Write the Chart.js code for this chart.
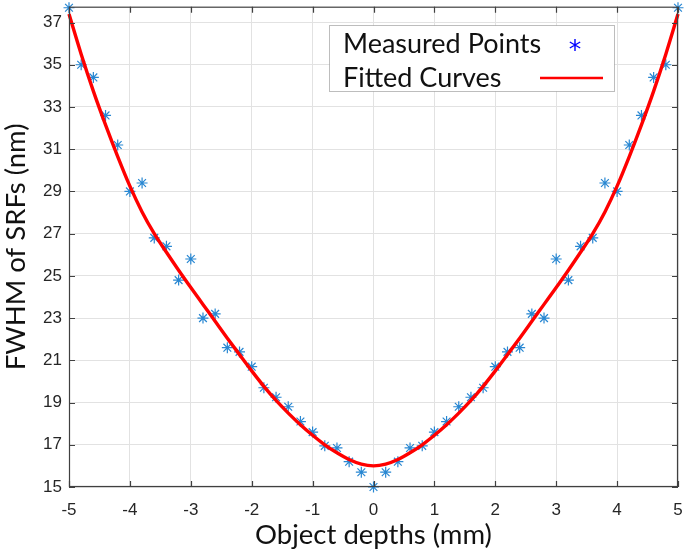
<!DOCTYPE html>
<html>
<head>
<meta charset="utf-8">
<script src="https://cdn.jsdelivr.net/npm/chart.js@4/dist/chart.umd.min.js"></script>
<style>
  html, body { margin: 0; padding: 0; background: #ffffff; }
  #wrap { width: 685px; height: 552px; position: relative; }
</style>
</head>
<body>
<div id="wrap"><canvas id="c" width="685" height="552"></canvas></div>
<script>
// ---- Data ----
const depths = [-5,-4.8,-4.6,-4.4,-4.2,-4,-3.8,-3.6,-3.4,-3.2,-3,-2.8,-2.6,-2.4,-2.2,-2,-1.8,-1.6,-1.4,-1.2,-1,-0.8,-0.6,-0.4,-0.2,0,
                0.2,0.4,0.6,0.8,1,1.2,1.4,1.6,1.8,2,2.2,2.4,2.6,2.8,3,3.2,3.4,3.6,3.8,4,4.2,4.4,4.6,4.8,5];
const measuredFWHM = [37.7,35.0,34.4,32.6,31.2,29.0,29.4,26.8,26.4,24.8,25.8,23.0,23.2,21.6,21.4,20.7,19.7,19.25,18.8,18.1,17.6,16.95,16.85,16.2,15.7,15.0,
                      15.7,16.2,16.85,16.95,17.6,18.1,18.8,19.25,19.7,20.7,21.4,21.6,23.2,23.0,25.8,24.8,26.4,26.8,29.4,29.0,31.2,32.6,34.4,35.0,37.7];
const fittedFWHM = [37.4,35.5,33.75,32.15,30.65,29.25,28.03,27.0,26.12,25.27,24.45,23.65,22.85,22.05,21.27,20.5,19.77,19.1,18.5,17.95,17.45,17.0,16.62,16.3,16.08,16.0,
                    16.08,16.3,16.62,17.0,17.45,17.95,18.5,19.1,19.77,20.5,21.27,22.05,22.85,23.65,24.45,25.27,26.12,27.0,28.03,29.25,30.65,32.15,33.75,35.5,37.4];
const xTicks = [-5,-4,-3,-2,-1,0,1,2,3,4,5];
const yTicks = [15,17,19,21,23,25,27,29,31,33,35,37];
const legendLabels = ["Measured Points", "Fitted Curves"];
const xTitle = "Object depths (mm)";
const yTitle = "FWHM of SRFs (nm)";

const measuredPts = depths.map((d, i) => ({ x: d, y: measuredFWHM[i] }));
const fittedPts = depths.map((d, i) => ({ x: d, y: fittedFWHM[i] }));

const AXIS_COLOR = '#404040';
const TICK_FONT = { family: "'Liberation Sans', Arial, sans-serif", size: 17 };
const TITLE_FONT = { family: "Lato, 'Open Sans', sans-serif", size: 27.5 };

function zeroPad(s) { s.paddingTop = 0; s.paddingBottom = 0; s.paddingLeft = 0; s.paddingRight = 0; }

const boxPlugin = {
  id: 'matlabBox',
  afterDatasetsDraw(chart) {
    const ctx = chart.ctx;
    const a = chart.chartArea;
    const xs = chart.scales.x, ys = chart.scales.y;
    ctx.save();
    ctx.strokeStyle = AXIS_COLOR;
    ctx.lineWidth = 1.2;
    ctx.strokeRect(a.left + 0.5, a.top + 0.5, a.right - a.left - 1, a.bottom - a.top - 1);
    const tl = 6;
    ctx.beginPath();
    xTicks.forEach(v => {
      const px = Math.round(xs.getPixelForValue(v)) + 0.5;
      ctx.moveTo(px, a.bottom); ctx.lineTo(px, a.bottom - tl);
      ctx.moveTo(px, a.top); ctx.lineTo(px, a.top + tl);
    });
    yTicks.forEach(v => {
      const py = Math.round(ys.getPixelForValue(v)) + 0.5;
      ctx.moveTo(a.left, py); ctx.lineTo(a.left + tl, py);
      ctx.moveTo(a.right, py); ctx.lineTo(a.right - tl, py);
    });
    ctx.stroke();

    // legend box
    const lx = 329.5, ly = 25.5, lw = 285, lh = 66;
    ctx.fillStyle = '#ffffff';
    ctx.fillRect(lx, ly, lw, lh);
    ctx.setLineDash([1, 1]);
    ctx.strokeStyle = '#7a7a7a';
    ctx.lineWidth = 1;
    ctx.strokeRect(lx, ly, lw, lh);
    ctx.setLineDash([]);
    ctx.fillStyle = '#111111';
    ctx.font = "27px Lato, 'Open Sans', sans-serif";
    ctx.textBaseline = 'middle';
    ctx.textAlign = 'left';
    ctx.fillText(legendLabels[0], 343, 44);
    ctx.fillText(legendLabels[1], 343, 78);
    // star marker
    const sx = 575, sy = 45, r = 6;
    ctx.strokeStyle = '#0000ff';
    ctx.lineWidth = 1.4;
    ctx.beginPath();
    for (let k = 0; k < 3; k++) {
      const ang = Math.PI / 2 + k * Math.PI / 3;
      ctx.moveTo(sx + r * Math.cos(ang), sy + r * Math.sin(ang));
      ctx.lineTo(sx - r * Math.cos(ang), sy - r * Math.sin(ang));
    }
    ctx.stroke();
    // red line
    ctx.strokeStyle = '#ff0000';
    ctx.lineWidth = 2.5;
    ctx.beginPath();
    ctx.moveTo(540, 78); ctx.lineTo(603, 78);
    ctx.stroke();
    ctx.restore();
  }
};

new Chart(document.getElementById('c'), {
  type: 'scatter',
  data: {
    datasets: [
      {
        label: legendLabels[1],
        data: fittedPts,
        showLine: true,
        borderColor: '#ff0000',
        borderWidth: 3.4,
        pointRadius: 0,
        cubicInterpolationMode: 'monotone',
        order: 0
      },
      {
        label: legendLabels[0],
        data: measuredPts,
        showLine: false,
        pointStyle: 'star',
        pointRadius: 5.5,
        borderColor: 'rgb(40,135,210)',
        backgroundColor: 'rgb(40,135,210)',
        pointBorderWidth: 1.2,
        order: 1
      }
    ]
  },
  options: {
    responsive: false,
    animation: false,
    clip: false,
    layout: { padding: { top: 6, right: 7, left: 0, bottom: 0 } },
    plugins: { legend: { display: false }, tooltip: { enabled: false } },
    scales: {
      x: {
        type: 'linear',
        min: -5, max: 5,
        afterBuildTicks: s => { s.ticks = xTicks.map(v => ({ value: v })); },
        afterFit: s => { s.height = 65; zeroPad(s); },
        grid: { color: '#e2e2e2', lineWidth: 1, drawTicks: false },
        border: { display: false },
        ticks: { color: '#262626', font: TICK_FONT, padding: 13, maxRotation: 0,
                 callback: v => String(v) },
        title: { display: true, text: xTitle, color: '#111111', font: TITLE_FONT, padding: 0 }
      },
      y: {
        type: 'linear',
        min: 15, max: 37.75,
        afterBuildTicks: s => { s.ticks = yTicks.map(v => ({ value: v })); },
        afterFit: s => { s.width = 69; zeroPad(s); },
        grid: { color: '#e2e2e2', lineWidth: 1, drawTicks: false },
        border: { display: false },
        ticks: { color: '#262626', font: TICK_FONT, padding: 7,
                 callback: v => String(v) },
        title: { display: true, text: yTitle, color: '#111111', font: TITLE_FONT, padding: 0 }
      }
    }
  },
  plugins: [boxPlugin]
});
</script>
</body>
</html>
